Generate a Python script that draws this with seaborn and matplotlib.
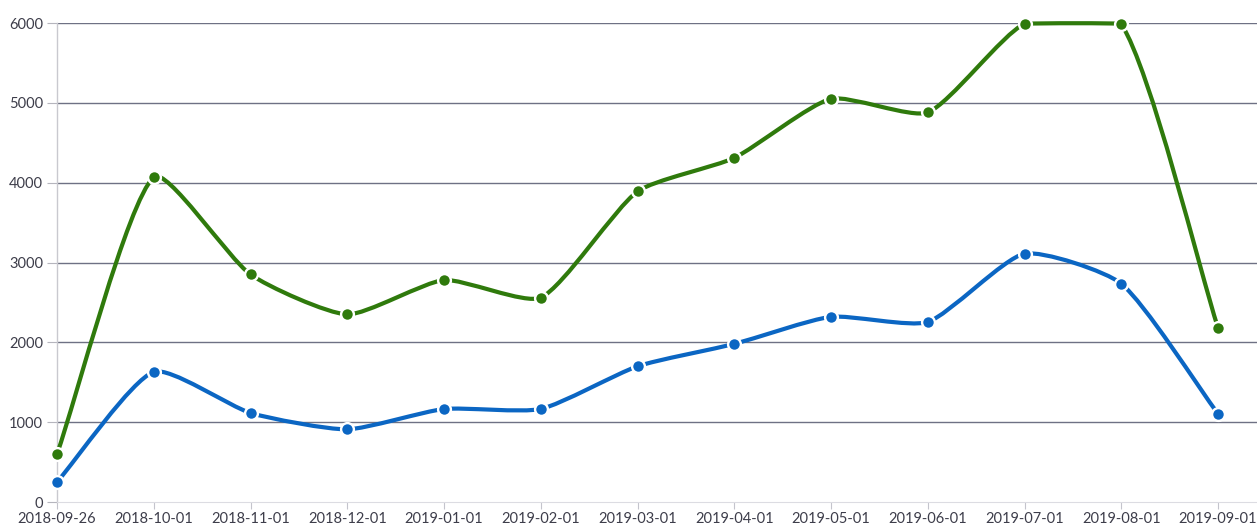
import numpy as np
import pandas as pd
import matplotlib
matplotlib.use("Agg")
import matplotlib.pyplot as plt
from matplotlib.path import Path
from matplotlib.patches import PathPatch
import seaborn as sns

# ---------------------------------------------------------------------------
# Data
# ---------------------------------------------------------------------------
DATES = ["2018-09-26", "2018-10-01", "2018-11-01", "2018-12-01", "2019-01-01",
         "2019-02-01", "2019-03-01", "2019-04-01", "2019-05-01", "2019-06-01",
         "2019-07-01", "2019-08-01", "2019-09-01"]
GREEN_VALUES = [600, 4070, 2850, 2350, 2780, 2560, 3890, 4310, 5050, 4880, 5990, 5990, 2180]
BLUE_VALUES = [250, 1630, 1115, 910, 1165, 1165, 1700, 1980, 2320, 2255, 3110, 2735, 1105]

# ---------------------------------------------------------------------------
# Style
# ---------------------------------------------------------------------------
GREEN = "#2f7a0c"
BLUE = "#0b66c3"
GRID = "#6e7184"
TEXT = "#3d3d4a"
TENSION = 0.2
X_MAX = 1200 / 96.75   # the plot area runs a bit past the last date

sns.set_theme(style="white")
plt.rcParams["font.family"] = ["Lato", "DejaVu Sans"]


def spline_path(ax, xs, ys, tension=TENSION):
    """Cardinal-style spline (control points from pixel distances), capped to the plot area."""
    pts = ax.transData.transform(np.column_stack([xs, ys]))
    inv = ax.transData.inverted()
    (x0, x1), (y0, y1) = ax.get_xlim(), ax.get_ylim()
    n = len(pts)
    before = [pts[0]] * n
    after = [pts[-1]] * n
    for i in range(n):
        prev = pts[max(i - 1, 0)]
        cur = pts[i]
        nxt = pts[min(i + 1, n - 1)]
        d01 = np.hypot(*(cur - prev))
        d12 = np.hypot(*(nxt - cur))
        tot = d01 + d12
        fa = tension * d01 / tot if tot else 0
        fb = tension * d12 / tot if tot else 0
        before[i] = cur - fa * (nxt - prev)
        after[i] = cur + fb * (nxt - prev)

    def to_data(p):
        x, y = inv.transform(p)
        return (min(max(x, x0), x1), min(max(y, y0), y1))

    verts = [tuple(inv.transform(pts[0]))]
    codes = [Path.MOVETO]
    for i in range(1, n):
        verts += [to_data(after[i - 1]), to_data(before[i]), tuple(inv.transform(pts[i]))]
        codes += [Path.CURVE4] * 3
    return Path(verts, codes)


df = pd.DataFrame({
    "pos": np.arange(len(DATES)),
    "date": DATES,
    "green": GREEN_VALUES,
    "blue": BLUE_VALUES,
})

fig = plt.figure(figsize=(12.57, 5.24), dpi=100)
ax = fig.add_axes([57 / 1257, 22 / 524, 1200 / 1257, 479 / 524])
ax.set_xlim(0, X_MAX)
ax.set_ylim(0, 6000)

for col, color in [("green", GREEN), ("blue", BLUE)]:
    path = spline_path(ax, df["pos"].values.astype(float), df[col].values.astype(float))
    ax.add_patch(PathPatch(path, facecolor="none", edgecolor=color, lw=3.0,
                           capstyle="round", joinstyle="round", zorder=3, clip_on=False))
    sns.scatterplot(data=df, x="pos", y=col, ax=ax, color=color, s=85,
                    edgecolor="white", linewidth=1.7, zorder=4, clip_on=False,
                    legend=False)

ax.set_xlim(0, X_MAX)
ax.set_ylim(0, 6000)
ax.set_yticks(range(0, 7000, 1000))
ax.set_xticks(df["pos"])
ax.set_xticklabels(DATES)
ax.set_xlabel("")
ax.set_ylabel("")

for v in range(1000, 7000, 1000):
    ax.axhline(v, color=GRID, lw=1.0, zorder=1)

for s in ["top", "right"]:
    ax.spines[s].set_visible(False)
ax.spines["left"].set_color("#c9c9cf")
ax.spines["left"].set_linewidth(1.0)
ax.spines["bottom"].set_color("#dcdce2")
ax.spines["bottom"].set_linewidth(0.8)

ax.tick_params(axis="y", length=7, width=0.8, color="#b5b5bd", labelsize=10.5,
               labelcolor=TEXT, pad=3, left=True)
ax.tick_params(axis="x", length=5, width=0.8, color="#c4c4cc", labelsize=10.5,
               labelcolor=TEXT, pad=2, bottom=True)

fig.savefig("out.png", dpi=100)
